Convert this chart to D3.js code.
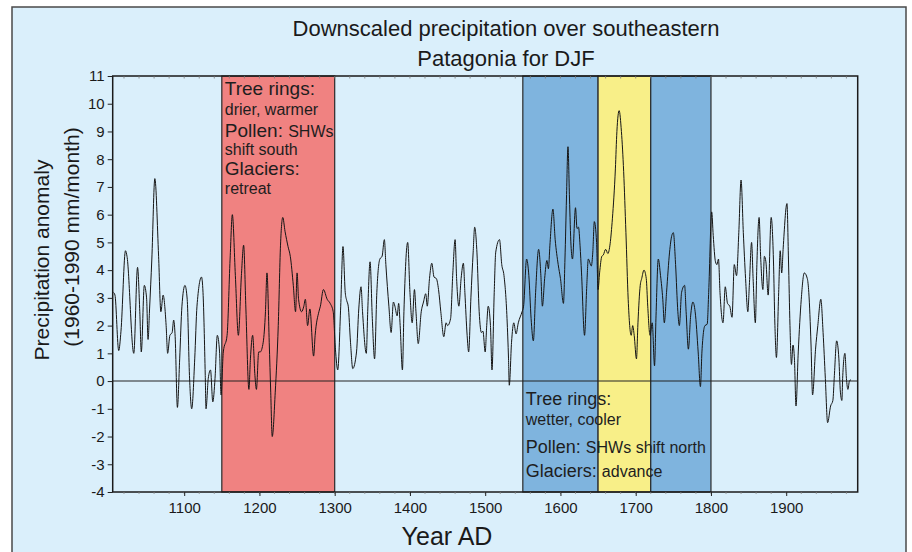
<!DOCTYPE html>
<html>
<head>
<meta charset="utf-8">
<script src="https://cdn.jsdelivr.net/npm/d3@7"></script>
<style>
  html, body { margin: 0; padding: 0; background: #ffffff; }
  svg { display: block; font-family: "Liberation Sans", Arial, Helvetica, sans-serif; }
</style>
</head>
<body>
<svg id="chart" width="912" height="552"></svg>
<script>
// ---------------- data ----------------
const titleLines = ["Downscaled precipitation over southeastern", "Patagonia for DJF"];
const yLabelLines = ["Precipitation anomaly", "(1960-1990 mm/month)"];
const xLabel = "Year AD";
const xTicks = [1100, 1200, 1300, 1400, 1500, 1600, 1700, 1800, 1900];
const yTicks = [-4, -3, -2, -1, 0, 1, 2, 3, 4, 5, 6, 7, 8, 9, 10, 11];

const bandStarts = [1150, 1550, 1650, 1720];
const bandEnds   = [1300, 1650, 1720, 1800];
const bandKinds  = ["warm", "cool", "yellow", "cool"];

// each note line: [heading part, description part]
const warmNote = [["Tree rings:", ""], ["", "drier, warmer"], ["Pollen: ", "SHWs"], ["", "shift south"], ["Glaciers:", ""], ["", "retreat"]];
const coolNote = [["Tree rings:", ""], ["", "wetter, cooler"], ["Pollen: ", "SHWs shift north"], ["Glaciers: ", "advance"]];

const years = [
 1006,1008,1013,1016,1022,1024,1033,1038,1041,1043,1047,1050,1052,1054,1057,1061,1066,1069,1072,1076,
 1078,1081,1084,1086,1088,1091,1094,1097,1101,1104,1107,1110,1114,1117,1123,1125,1128,1129,1132,1135,
 1138,1141,1144,1147,1149,1152,1157,1161,1164,1168,1172,1176,1179,1182,1186,1188,1191,1194,1196,1199,
 1201,1205,1208,1210,1213,1215,1217,1221,1225,1228,1231,1234,1238,1241,1245,1248,1250,1252,1256,1259,
 1261,1264,1267,1272,1274,1279,1281,1285,1290,1294,1298,1301,1304,1308,1311,1314,1316,1318,1321,1324,
 1329,1332,1335,1337,1342,1344,1347,1350,1353,1356,1360,1363,1366,1368,1372,1375,1378,1380,1383,1385,
 1387,1390,1392,1397,1400,1403,1406,1408,1411,1415,1418,1421,1423,1426,1429,1432,1435,1438,1441,1445,
 1448,1450,1454,1457,1460,1462,1465,1468,1471,1473,1476,1478,1481,1484,1486,1489,1492,1495,1497,1500,
 1502,1504,1507,1509,1512,1514,1519,1522,1525,1529,1531,1532,1535,1538,1541,1544,1549,1551,1555,1558,
 1561,1564,1567,1571,1574,1576,1579,1582,1584,1586,1590,1593,1597,1600,1604,1606,1608,1610,1612,1614,
 1616,1620,1622,1624,1626,1628,1632,1635,1637,1641,1643,1645,1648,1650,1652,1655,1657,1660,1663,1666,
 1669,1673,1675,1678,1681,1684,1687,1690,1694,1696,1698,1701,1703,1706,1708,1711,1714,1716,1719,1722,
 1725,1727,1730,1733,1736,1738,1741,1745,1748,1750,1753,1756,1758,1761,1765,1767,1770,1773,1776,1779,
 1783,1786,1788,1790,1792,1795,1797,1801,1803,1806,1808,1810,1812,1816,1819,1822,1825,1828,1831,1834,
 1837,1840,1843,1846,1849,1851,1854,1856,1859,1861,1864,1866,1869,1871,1873,1876,1880,1883,1885,1887,
 1890,1892,1894,1896,1901,1903,1905,1907,1909,1911,1913,1916,1920,1924,1928,1930,1933,1935,1939,1942,
 1946,1949,1952,1955,1959,1962,1964,1967,1970,1972,1974,1975,1978,1980,1982,1984,1986
];
const precip = [
 3.2,3.1,1.1,1.8,4.7,4.5,1.0,4.1,2.5,1.05,3.45,3.0,1.5,2.6,4.4,7.3,4.5,2.5,3.1,2.0,
 1.0,1.65,1.75,2.2,1.6,-0.95,0.8,2.7,3.45,2.95,0.2,-1.0,0.8,2.7,3.75,3.2,0.2,-1.0,0.1,0.4,
 -0.75,0.1,1.65,1.05,-0.5,1.05,1.65,4.4,6.0,3.8,1.65,3.8,4.9,2.6,-0.3,0.8,1.65,0.2,-0.3,1.05,
 1.05,1.4,2.5,3.9,1.4,-0.4,-2.0,-0.4,2.0,4.9,5.9,5.4,4.85,4.5,3.45,2.5,3.9,2.95,2.5,2.7,
 2.95,2.0,2.6,0.9,1.65,2.5,2.7,3.3,2.95,2.8,2.5,1.15,0.4,2.7,4.85,3.2,2.9,2.7,1.4,0.45,
 1.05,2.6,3.4,2.5,1.0,2.6,4.3,2.25,0.8,3.2,4.4,4.5,5.1,4.2,2.7,1.75,2.85,2.7,2.35,2.8,
 2.0,0.4,2.5,5.0,3.2,2.1,3.3,2.5,1.35,2.5,2.85,3.15,2.7,3.7,4.25,3.75,3.7,3.3,2.5,1.6,
 2.1,2.0,2.25,3.9,5.1,3.7,2.7,3.7,4.25,3.2,1.65,1.05,3.0,4.65,5.55,4.65,2.5,1.75,1.8,1.05,
 2.0,2.7,2.0,0.4,3.2,4.65,5.1,4.2,3.8,2.25,0.8,-0.15,1.4,2.1,1.7,2.1,2.5,2.7,4.4,3.8,
 2.25,1.45,3.2,4.75,3.8,2.7,3.7,4.35,4.05,4.9,6.2,5.1,4.2,3.7,2.8,4.4,6.6,8.45,6.6,4.9,
 4.4,6.25,5.5,5.55,4.9,3.9,1.65,3.45,4.4,4.15,4.65,5.75,5.0,3.3,3.9,4.5,4.55,4.75,4.6,4.95,
 5.85,7.65,9.0,9.75,9.0,7.55,5.35,2.95,1.65,2.0,1.65,0.8,2.1,3.45,3.7,4.0,3.7,2.7,1.65,2.1,
 0.55,2.35,4.4,3.8,2.95,2.1,3.2,4.65,5.25,5.35,4.2,2.5,2.0,3.2,3.45,2.5,1.15,2.35,2.85,2.5,
 1.05,-0.2,1.05,1.75,2.0,2.05,3.2,6.1,5.25,4.3,4.2,4.4,3.2,2.1,3.4,2.8,2.7,2.3,4.2,3.8,
 5.35,7.25,5.35,3.7,2.5,3.45,5.0,3.7,2.1,4.2,5.9,4.5,3.3,4.5,4.3,3.1,5.9,4.4,2.0,0.85,
 3.2,4.7,3.9,4.8,6.4,4.4,2.0,0.6,1.3,0.75,-0.9,1.05,2.95,3.9,3.7,3.2,1.3,-0.5,1.15,2.0,
 2.95,1.75,0.1,-1.5,-0.9,-0.7,0.2,1.45,0.8,-0.4,-0.7,0.1,1.0,0.1,-0.3,0.0,0.05
];

// ---------------- layout ----------------
const W = 912, H = 552;
const plot = { left: 112.7, right: 857.7, top: 76, bottom: 492 };
const colors = { panel: "#daeffb", warm: "#f08281", cool: "#7fb4de", yellow: "#f8ef88", ink: "#1a1a1a" };

const svg = d3.select("#chart");
svg.append("rect").attr("x", 0).attr("y", 0).attr("width", W).attr("height", H).attr("fill", "#ffffff");
// outer panel
svg.append("rect").attr("x", 12).attr("y", 7).attr("width", 894).attr("height", 570)
  .attr("fill", colors.panel).attr("stroke", "#4a4a4a").attr("stroke-width", 1.5);

const x = d3.scaleLinear().domain([1005, 1995]).range([plot.left, plot.right]);
const y = d3.scaleLinear().domain([-4, 11]).range([plot.bottom, plot.top]);

// bands
const bands = bandStarts.map((s, i) => ({ s, e: bandEnds[i], k: bandKinds[i] }));
svg.append("g").selectAll("rect").data(bands).join("rect")
  .attr("x", d => x(d.s)).attr("y", plot.top)
  .attr("width", d => x(d.e) - x(d.s)).attr("height", plot.bottom - plot.top)
  .attr("fill", d => colors[d.k]).attr("stroke", "#2a2a2a").attr("stroke-width", 1.2);

// zero line
svg.append("line").attr("x1", plot.left).attr("x2", plot.right)
  .attr("y1", y(0)).attr("y2", y(0)).attr("stroke", "#222").attr("stroke-width", 1.1);

// data line
const pts = years.map((yr, i) => [yr, precip[i]]);
const line = d3.line().x(d => x(d[0])).y(d => y(d[1])).curve(d3.curveMonotoneX);
svg.append("path").datum(pts).attr("d", line).attr("fill", "none")
  .attr("stroke", "#151515").attr("stroke-width", 1.0).attr("stroke-linejoin", "round");

// frame
svg.append("rect").attr("x", plot.left).attr("y", plot.top)
  .attr("width", plot.right - plot.left).attr("height", plot.bottom - plot.top)
  .attr("fill", "none").attr("stroke", "#1a1a1a").attr("stroke-width", 1.5);

// minor ticks along top and bottom
const minor = d3.range(1020, 1995, 20);
svg.append("g").selectAll("line").data(minor).join("line")
  .attr("x1", d => x(d)).attr("x2", d => x(d))
  .attr("y1", plot.top).attr("y2", plot.top + 2.5)
  .attr("stroke", "#777").attr("stroke-width", 0.8);
svg.append("g").selectAll("line").data(minor).join("line")
  .attr("x1", d => x(d)).attr("x2", d => x(d))
  .attr("y1", plot.bottom).attr("y2", plot.bottom + 2)
  .attr("stroke", "#888").attr("stroke-width", 0.8);

// axes
const xAxis = d3.axisBottom(x).tickValues(xTicks).tickSize(4).tickPadding(6).tickFormat(d => String(d));
const gx = svg.append("g").attr("transform", `translate(0,${plot.bottom})`).call(xAxis);
gx.select(".domain").remove();
gx.selectAll("line").attr("stroke", "#222");
gx.selectAll("text").attr("font-size", 15).attr("fill", "#1a1a1a")
  .attr("font-family", '"Liberation Sans Narrow", "Liberation Sans", Arial, sans-serif');

const yAxis = d3.axisLeft(y).tickValues(yTicks).tickSize(5).tickPadding(3).tickFormat(d => String(d));
const gy = svg.append("g").attr("transform", `translate(${plot.left},0)`).call(yAxis);
gy.select(".domain").remove();
gy.selectAll("line").attr("stroke", "#222");
gy.selectAll("text").attr("font-size", 15).attr("fill", "#1a1a1a");

// title
svg.append("g").selectAll("text").data(titleLines).join("text")
  .attr("x", 506).attr("y", (d, i) => 36 + i * 30)
  .attr("text-anchor", "middle").attr("font-size", 22).attr("fill", "#1a1a1a")
  .text(d => d);

// x label
svg.append("text").attr("x", 447).attr("y", 545).attr("text-anchor", "middle")
  .attr("font-size", 25).attr("fill", "#1a1a1a").text(xLabel);

// y label
const yLabPos = [{ bx: 49, cy: 260 }, { bx: 79, cy: 237 }];
svg.append("g").selectAll("text").data(yLabelLines).join("text")
  .attr("transform", (d, i) => `translate(${yLabPos[i].bx},${yLabPos[i].cy}) rotate(-90)`)
  .attr("text-anchor", "middle").attr("font-size", 21).attr("fill", "#1a1a1a")
  .text(d => d);

// notes
function drawNote(lines, x0, baselines, headSize, descSize) {
  const g = svg.append("g");
  lines.forEach((ln, i) => {
    const t = g.append("text").attr("x", x0).attr("y", baselines[i]).attr("fill", "#1e1e1e");
    if (ln[0]) t.append("tspan").attr("font-size", headSize).text(ln[0]);
    if (ln[1]) t.append("tspan").attr("font-size", descSize).text(ln[1]);
  });
}
drawNote(warmNote, x(bandStarts[0]) + 3, [95, 115, 137, 155, 175, 194], 19, 16);
drawNote(coolNote, x(bandStarts[1]) + 3, [405, 425, 453, 477], 18, 16);
</script>
</body>
</html>
